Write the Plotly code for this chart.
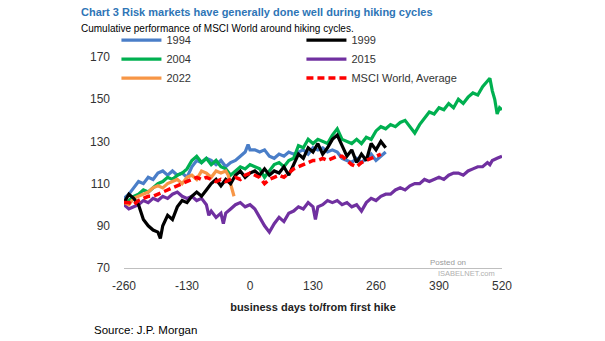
import plotly.graph_objects as go

# Business days relative to the first rate hike, and MSCI World index (start = 100)
days_1994 = [-260, -250, -240, -230, -220, -210, -200, -190, -180, -170, -160, -150, -140, -130,
             -120, -110, -100, -90, -80, -70, -60, -50, -40, -30, -20, -10, -4, 0, 10, 20, 30,
             40, 50, 60, 70, 80, 90, 100, 110, 120, 130, 140, 150, 160, 170, 180, 190, 200,
             210, 220, 230, 240, 250, 260, 270, 280]
vals_1994 = [103, 105, 108, 111, 110, 113, 112, 115, 116, 114, 116, 114, 115, 113,
             118, 121, 120, 122, 121, 119, 121, 118, 120, 121, 123, 125, 128.5, 126, 126, 125, 126,
             123, 122, 124, 123, 125, 124, 125, 126, 124, 127, 126, 127, 125, 126, 125, 122, 121,
             120, 122, 120, 122, 124, 121, 123, 125]

days_1999 = [-260, -250, -240, -230, -220, -210, -200, -190, -185, -180, -170, -160, -150, -140,
             -130, -120, -110, -100, -90, -80, -70, -60, -50, -40, -30, -20, -10, 0, 10, 20, 30,
             40, 50, 60, 70, 80, 90, 100, 110, 120, 130, 140, 150, 160, 170, 180, 190, 200, 210,
             220, 230, 240, 250, 260, 270, 280]
vals_1999 = [101, 105, 103, 100, 93, 90, 88, 87, 84, 90, 95, 93, 99, 102,
             101, 104, 106, 104, 107, 110, 112, 109, 112, 110, 114, 116, 113, 115, 116, 114, 117,
             114, 116, 115, 118, 114, 119, 124, 122, 127, 125, 129, 124, 127, 131, 133, 128, 123, 126,
             120, 124, 121, 129, 126, 130, 127]

days_2004 = [-260, -250, -240, -230, -220, -210, -200, -190, -180, -170, -160, -150, -140, -130,
             -120, -110, -100, -90, -80, -70, -60, -50, -40, -30, -20, -10, 0, 10, 20, 30, 40,
             50, 60, 70, 80, 90, 100, 110, 120, 130, 140, 150, 160, 170, 180, 190, 200, 210, 220,
             230, 240, 250, 260, 270, 280, 290, 300, 310, 320, 330, 340, 350, 360, 370, 380, 390,
             400, 410, 420, 430, 440, 450, 460, 470, 480, 490, 495, 500, 505, 510, 515, 520]
vals_2004 = [100, 102, 104, 105, 107, 106, 108, 110, 111, 113, 112, 114, 115, 117,
             121, 123, 120, 122, 119, 121, 118, 117, 114, 116, 118, 117, 119, 118, 117, 113, 116,
             119, 120, 118, 121, 122, 128, 127, 131, 129, 131, 130, 129, 133, 136, 131, 130, 129, 131,
             129, 132, 131, 135, 137, 136, 138, 137, 139, 140, 137, 134, 138, 141, 144, 143, 146,
             145, 148, 146, 150, 148, 151, 153, 152, 156, 159, 160, 154, 150, 143, 146, 145]

days_2015 = [-260, -250, -240, -230, -220, -210, -200, -190, -180, -170, -160, -150, -140, -130,
             -120, -110, -100, -90, -85, -80, -70, -60, -55, -50, -40, -30, -20, -10, 0, 10, 20,
             30, 40, 50, 60, 70, 80, 90, 100, 110, 120, 130, 135, 140, 150, 160, 170, 180, 190,
             200, 210, 220, 230, 240, 250, 260, 270, 280, 290, 300, 310, 320, 330, 340, 350, 360,
             370, 380, 390, 400, 410, 420, 430, 440, 450, 460, 470, 480, 490, 495, 500, 510, 520]
vals_2015 = [100, 98, 99, 100, 102, 101, 103, 102, 104, 103, 105, 106, 104, 103,
             104, 102, 103, 100, 95, 97, 94, 96, 91, 96, 98, 100, 101, 99, 100, 98, 94,
             90, 87, 91, 94, 92, 96, 97, 99, 98, 101, 99, 93, 99, 100, 102, 101, 102, 100,
             101, 99, 100, 97, 101, 103, 102, 104, 105, 105, 107, 108, 107, 109, 110, 110, 112,
             111, 112, 113, 112, 114, 115, 115, 114, 116, 117, 118, 118, 120, 119, 121, 122, 123]

days_2022 = [-260, -250, -240, -230, -220, -210, -200, -190, -180, -170, -160, -150, -140, -130,
             -120, -110, -100, -90, -80, -70, -60, -50, -45, -40, -35, -33]
vals_2022 = [101, 100, 103, 104, 105, 106, 108, 109, 108, 110, 111, 112, 110, 113,
             114, 112, 116, 115, 113, 116, 115, 116, 114, 110, 106, 104]

days_avg = [-260, -250, -240, -230, -220, -210, -200, -190, -180, -170, -160, -150, -140, -130,
            -120, -110, -100, -90, -80, -70, -60, -50, -40, -30, -20, -10, 0, 10, 20, 30, 40,
            50, 60, 70, 80, 90, 100, 110, 120, 130, 140, 150, 160, 170, 180, 190, 200, 210, 220,
            230, 240, 250, 260, 270]
vals_avg = [101, 101, 100, 102, 103, 104, 104, 105, 106, 107, 108, 109, 110, 111,
            112, 113, 112, 113, 112, 111, 112, 111, 112, 113, 112, 114, 115, 114, 113, 110, 112,
            113, 114, 113, 115, 117, 118, 119, 120, 121, 121, 122, 121, 122, 123, 123, 121, 119, 118,
            120, 121, 122, 123, 124]

x_ticks = [-260, -130, 0, 130, 260, 390, 520]
y_ticks = [70, 90, 110, 130, 150, 170]

FONT = "Liberation Sans, Arial, sans-serif"

# (name, x, y, colour, dash, legend position)
series = [
    ("1994", days_1994, vals_1994, "#4a7ec8", "solid", 1),
    ("2004", days_2004, vals_2004, "#00b050", "solid", 3),
    ("2015", days_2015, vals_2015, "#7030a0", "solid", 4),
    ("2022", days_2022, vals_2022, "#f79646", "solid", 5),
    ("1999", days_1999, vals_1999, "#000000", "solid", 2),
    ("MSCI World, Average", days_avg, vals_avg, "#ff0000", "7px,4px", 6),
]

fig = go.Figure()
for name, xs, ys, col, dash, rank in series:
    fig.add_trace(go.Scatter(
        x=xs, y=ys, name=name, mode="lines", legendrank=rank,
        line=dict(color=col, width=3.2 if name != "MSCI World, Average" else 3.5, dash=dash),
    ))

fig.update_layout(
    width=605, height=341,
    margin=dict(l=124, r=103, t=36, b=73),
    paper_bgcolor="white", plot_bgcolor="white",
    font=dict(family=FONT, size=12, color="#333333"),
    showlegend=True,
    legend=dict(
        orientation="h", x=-0.02, y=1.045, xanchor="left", yanchor="top",
        entrywidth=130, entrywidthmode="pixels", itemwidth=40,
        font=dict(size=11, color="#333333"), bgcolor="rgba(0,0,0,0)",
        tracegroupgap=0,
    ),
    xaxis=dict(
        range=[-260, 520], tickvals=x_ticks, ticktext=[str(v) for v in x_ticks],
        showgrid=False, zeroline=False, showline=True, linecolor="#bfbfbf", linewidth=1,
        ticks="", ticklabelstandoff=7, tickfont=dict(size=12, color="#333333"),
        title=dict(text="<b>business days to/from first hike</b>", standoff=10,
                   font=dict(size=11, color="#222222")),
    ),
    yaxis=dict(
        range=[70, 180], tickvals=y_ticks, showgrid=False, zeroline=False, showline=False,
        ticks="", ticklabelstandoff=13, tickfont=dict(size=12, color="#333333"),
    ),
    annotations=[
        dict(text="Chart 3 Risk markets have generally done well during hiking cycles",
             xref="paper", yref="paper", x=-0.119, y=1.0, xanchor="left", yanchor="bottom",
             yshift=16, showarrow=False,
             font=dict(size=11, color="#2e75b6", family=FONT, weight=600)),
        dict(text="Cumulative performance of MSCI World around hiking cycles.",
             xref="paper", yref="paper", x=-0.119, y=1.0, xanchor="left", yanchor="bottom",
             yshift=0, showarrow=False,
             font=dict(size=10, color="#000000", family=FONT)),
        dict(text="Source: J.P. Morgan", xref="paper", yref="paper", x=-0.085, y=0,
             xanchor="left", yanchor="middle", yshift=-62, showarrow=False,
             font=dict(size=11.5, color="#000000", family=FONT)),
        dict(text="Posted on", xref="paper", yref="paper", x=0.857, y=0,
             xanchor="center", yanchor="middle", yshift=6, showarrow=False,
             font=dict(size=8, color="#9a9a9a", family=FONT)),
        dict(text="ISABELNET.com", xref="paper", yref="paper", x=0.905, y=0,
             xanchor="center", yanchor="middle", yshift=-5, showarrow=False,
             font=dict(size=7.5, color="#b0b0b0", family=FONT)),
    ],
)

fig.write_html("out.html")
